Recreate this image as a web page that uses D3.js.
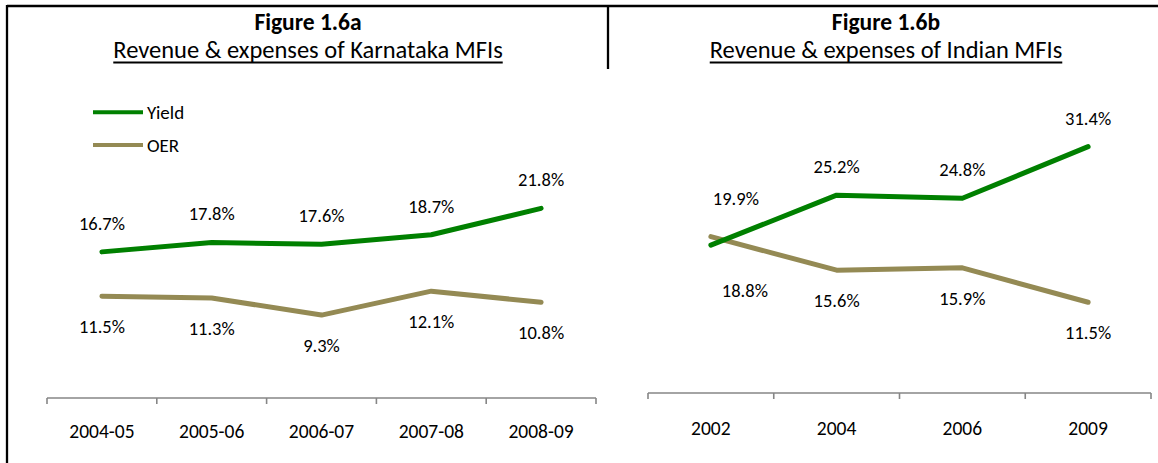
<!DOCTYPE html>
<html>
<head>
<meta charset="utf-8">
<script src="https://cdn.jsdelivr.net/npm/d3@7"></script>
<style>
  html, body { margin: 0; padding: 0; background: #fff; }
  svg { display: block; font-family: Carlito, Lato, "Open Sans", sans-serif; }
</style>
</head>
<body>
<svg id="chart" width="1158" height="463"></svg>
<script>
// ---- Data ----
const seriesNames = ["Yield", "OER"];

// Figure 1.6a – Karnataka MFIs
const karnatakaYears = ["2004-05", "2005-06", "2006-07", "2007-08", "2008-09"];
const karnatakaYield = [16.7, 17.8, 17.6, 18.7, 21.8];
const karnatakaOER   = [11.5, 11.3, 9.3, 12.1, 10.8];

// Figure 1.6b – Indian MFIs
const indiaYears = ["2002", "2004", "2006", "2009"];
const indiaYield = [18.8, 25.2, 24.8, 31.4];
const indiaOER   = [19.9, 15.6, 15.9, 11.5];

const titles = ["Figure 1.6a", "Figure 1.6b"];
const subtitles = ["Revenue & expenses of Karnataka MFIs", "Revenue & expenses of Indian MFIs"];

// ---- Styles ----
const colors = { Yield: "#008000", OER: "#948A54" };
const svg = d3.select("#chart");

// frame
svg.append("line").attr("x1", 7).attr("x2", 1158).attr("y1", 6).attr("y2", 6)
  .attr("stroke", "#000").attr("stroke-width", 2.3);
svg.append("line").attr("x1", 7).attr("x2", 7).attr("y1", 5).attr("y2", 463)
  .attr("stroke", "#000").attr("stroke-width", 2.3);
svg.append("line").attr("x1", 608).attr("x2", 608).attr("y1", 5).attr("y2", 69)
  .attr("stroke", "#000").attr("stroke-width", 2.3);

function drawTitle(cx, title, sub) {
  svg.append("text").attr("x", cx).attr("y", 29.5).attr("text-anchor", "middle")
    .attr("font-size", 23.5).attr("font-weight", "bold").attr("fill", "#000").text(title);
  const t = svg.append("text").attr("x", cx).attr("y", 58).attr("text-anchor", "middle")
    .attr("font-size", 24.5).attr("fill", "#000").text(sub);
  const bb = t.node().getBBox();
  svg.append("line").attr("x1", bb.x).attr("x2", bb.x + bb.width)
    .attr("y1", 62.5).attr("y2", 62.5).attr("stroke", "#000").attr("stroke-width", 1.8);
}
drawTitle(308, titles[0], subtitles[0]);
drawTitle(886, titles[1], subtitles[1]);

function drawChart(opts) {
  const { cats, yieldVals, oerVals, xRange, y0, pxPerUnit, axisY, nudges, labelY } = opts;
  const x = d3.scaleBand().domain(cats).range(xRange).padding(0);
  const y = d3.scaleLinear().domain([0, 35]).range([y0, y0 - 35 * pxPerUnit]);
  const g = svg.append("g");

  // axis (custom Excel-like category axis)
  g.append("line").attr("x1", xRange[0]).attr("x2", xRange[1])
    .attr("y1", axisY).attr("y2", axisY).attr("stroke", "#868686").attr("stroke-width", 1.6);
  const bounds = cats.map(c => x(c)).concat([xRange[1]]);
  g.selectAll("line.tk").data(bounds).enter().append("line").attr("class", "tk")
    .attr("x1", d => d).attr("x2", d => d).attr("y1", axisY).attr("y2", axisY + 6)
    .attr("stroke", "#868686").attr("stroke-width", 1.6);
  g.selectAll("text.cat").data(cats).enter().append("text").attr("class", "cat")
    .attr("x", d => x(d) + x.bandwidth() / 2).attr("y", labelY)
    .attr("text-anchor", "middle").attr("font-size", 19.5).attr("fill", "#000").text(d => d);

  const series = [
    { name: "OER", vals: oerVals },
    { name: "Yield", vals: yieldVals }
  ];
  const line = d3.line().x((d, i) => x(cats[i]) + x.bandwidth() / 2).y(d => y(d));
  series.forEach(s => {
    g.append("path").datum(s.vals).attr("d", line).attr("fill", "none")
      .attr("stroke", colors[s.name]).attr("stroke-width", 5)
      .attr("stroke-linejoin", "round").attr("stroke-linecap", "round");
  });

  // data labels: higher series above, lower series below
  cats.forEach((c, i) => {
    const cx = x(c) + x.bandwidth() / 2;
    const a = yieldVals[i], b = oerVals[i];
    const hi = Math.max(a, b), lo = Math.min(a, b);
    const n = (nudges && nudges[i]) || { hx: 0, hy: 0, lx: 0, ly: 0 };
    g.append("text").attr("x", cx + n.hx).attr("y", y(hi) - 22 + n.hy)
      .attr("text-anchor", "middle").attr("font-size", 18.5).attr("fill", "#000")
      .text(d3.format(".1f")(hi) + "%");
    g.append("text").attr("x", cx + n.lx).attr("y", y(lo) + 37 + n.ly)
      .attr("text-anchor", "middle").attr("font-size", 18.5).attr("fill", "#000")
      .text(d3.format(".1f")(lo) + "%");
  });
  return { x, y };
}

drawChart({
  cats: karnatakaYears, yieldVals: karnatakaYield, oerVals: karnatakaOER,
  xRange: [47, 596], y0: 394.5, pxPerUnit: 8.54, axisY: 398, labelY: 438
});

drawChart({
  cats: indiaYears, yieldVals: indiaYield, oerVals: indiaOER,
  xRange: [648, 1151], y0: 392.2, pxPerUnit: 7.82, axisY: 393, labelY: 435,
  nudges: [{ hx: 25, hy: -10, lx: 34, ly: 15 }]
});

// legend (left chart)
const legend = svg.append("g");
seriesNames.forEach((name, i) => {
  const ly = 112.3 + i * 32.7;
  legend.append("line").attr("x1", 93).attr("x2", 143).attr("y1", ly).attr("y2", ly)
    .attr("stroke", colors[name]).attr("stroke-width", 4);
  legend.append("text").attr("x", 147).attr("y", ly + 6.5).attr("font-size", 19)
    .attr("fill", "#000").text(name);
});
</script>
</body>
</html>
